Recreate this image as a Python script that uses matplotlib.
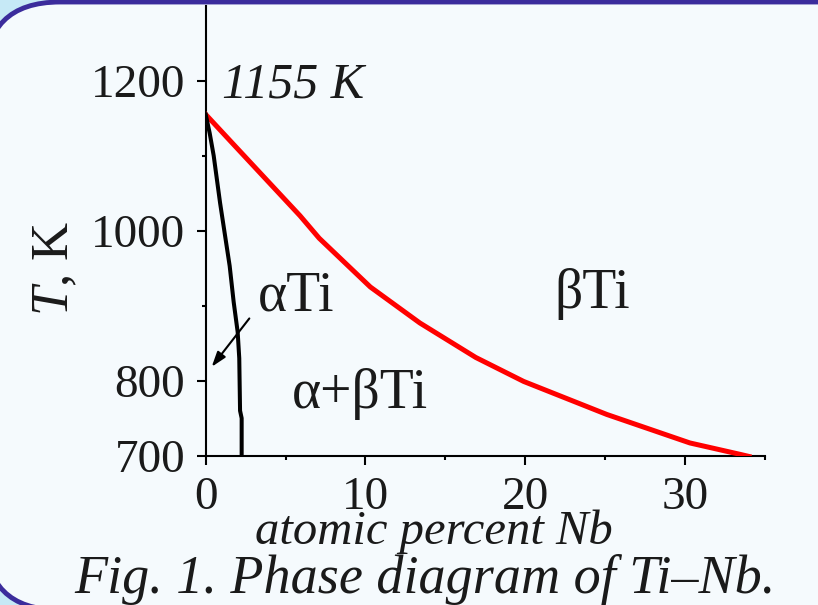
import matplotlib
matplotlib.use("Agg")
import matplotlib.pyplot as plt
from matplotlib.patches import FancyBboxPatch
from matplotlib.ticker import FixedLocator

plt.rcParams['font.family'] = ['Liberation Serif', 'DejaVu Serif']
plt.rcParams['mathtext.fontset'] = 'custom'
plt.rcParams['mathtext.rm'] = 'Liberation Serif'
plt.rcParams['mathtext.it'] = 'Liberation Serif:italic'

# ---- data ----
beta_x = [0, 1.7, 3.8, 5.9, 7.1, 10.3, 13.4, 16.9, 19.9, 25.1, 30.3, 33.4, 34.0]
beta_T = [1155, 1116, 1068, 1020, 990, 925, 877, 831, 799, 755, 717, 702, 699]

alpha_x = [0, 0.25, 0.5, 0.9, 1.5, 1.75, 2.0, 2.1, 2.15, 2.25, 2.25]
alpha_T = [1155, 1130, 1100, 1037, 953, 905, 865, 830, 760, 750, 700]

y_major = [700, 800, 1000, 1200]
y_minor = [900, 1100]
x_major = [0, 10, 20, 30]
x_minor = [5, 15, 25, 35]

TXT = '#1a1a1a'
W, H = 818, 605
fig = plt.figure(figsize=(W / 100, H / 100), dpi=100)
fig.patch.set_facecolor('#c6e9f6')

# background rounded panel
bg = fig.add_axes([0, 0, 1, 1], zorder=-10)
bg.set_xlim(0, W)
bg.set_ylim(H, 0)
bg.axis('off')
panel = FancyBboxPatch((-15, 2), 908, 608,
                       boxstyle="round,pad=0,rounding_size=75",
                       facecolor='#f5fafd', edgecolor='#3b2c9c', linewidth=3.5)
bg.add_patch(panel)

ax = fig.add_axes([205.7 / W, 1 - 455.7 / H, (765 - 205.7) / W, (455.7 - 5.7) / H])
ax.set_facecolor('none')
ax.set_xlim(0, 35)
ax.set_ylim(700, 1300)

ax.plot(beta_x, beta_T, color='#ff0000', lw=3.6, solid_joinstyle='round', zorder=3)
ax.plot(alpha_x, alpha_T, color='black', lw=2.9, zorder=4)

ax.annotate('', xy=(0.375, 818.5), xytext=(2.73, 883),
            arrowprops=dict(arrowstyle='-|>,head_length=0.9,head_width=0.3',
                            color='black', lw=1.5, shrinkA=0, shrinkB=0))

for s in ['top', 'right']:
    ax.spines[s].set_visible(False)
for s in ['left', 'bottom']:
    ax.spines[s].set_linewidth(1.5)
    ax.spines[s].set_color('black')

ax.yaxis.set_major_locator(FixedLocator(y_major))
ax.yaxis.set_minor_locator(FixedLocator(y_minor))
ax.xaxis.set_major_locator(FixedLocator(x_major))
ax.xaxis.set_minor_locator(FixedLocator(x_minor))
ax.tick_params(which='major', direction='out', length=6.7, width=1.5,
               labelsize=34, colors='black', labelcolor=TXT, pad=8)
ax.tick_params(which='minor', direction='out', length=2.8, width=1.5, colors='black')
ax.set_yticklabels([str(v) for v in y_major])
ax.set_xticklabels([str(v) for v in x_major])

ax.text(1.02, 1178, '1155 K', fontsize=36, style='italic', color=TXT,
        ha='left', va='baseline')
ax.text(3.27, 894, 'αTi', fontsize=40, color=TXT, ha='left', va='baseline')
ax.text(21.8, 897, 'βTi', fontsize=40, color=TXT, ha='left', va='baseline')
ax.text(5.39, 764, 'α+βTi', fontsize=40, color=TXT, ha='left', va='baseline')

fig.text(55 / W, 1 - 268 / H, r'$\mathit{T}$, K', fontsize=38, rotation=90,
         color=TXT, ha='center', va='center')
fig.text(434 / W, 1 - 544 / H, 'atomic percent Nb', fontsize=35, style='italic',
         color=TXT, ha='center', va='baseline')
fig.text(425 / W, 1 - 593 / H, 'Fig. 1. Phase diagram of Ti–Nb.', fontsize=39,
         style='italic', color=TXT, ha='center', va='baseline')

fig.savefig('out.png', dpi=100, facecolor=fig.get_facecolor())
